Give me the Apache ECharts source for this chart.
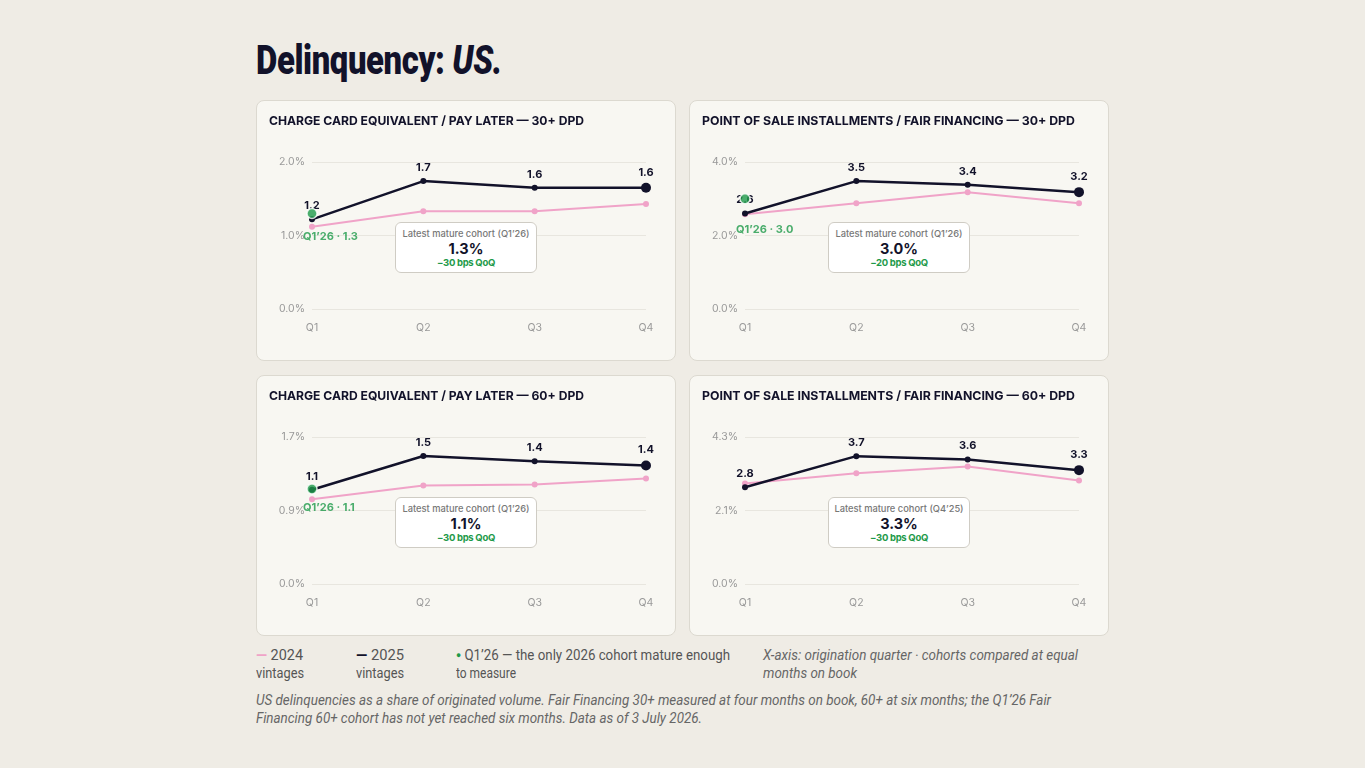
<!DOCTYPE html>
<html><head><meta charset="utf-8">
<script src="https://cdn.jsdelivr.net/npm/echarts@6/dist/echarts.min.js"></script>
<style>
html,body{margin:0;padding:0;background:#efece5;width:1365px;height:768px;overflow:hidden;font-family:Inter,"Noto Sans",sans-serif;}
.fit{position:absolute;white-space:nowrap;transform-origin:0 0;}
#title{left:256px;top:36px;font-family:Roboto,"Noto Sans",sans-serif;font-weight:900;font-size:41px;color:#12122a;letter-spacing:-0.5px;}
#title i{font-style:italic;}
.card{position:absolute;width:420px;height:261px;background:#f8f7f2;border:1px solid #dcd9d0;border-radius:8px;box-sizing:border-box;}
.card .ttl{left:12px;top:12px;font-weight:700;font-size:12.4px;color:#12122a;}
.card .ch{position:absolute;left:0;top:0;width:420px;height:261px;}
.callout{position:absolute;left:138px;top:121px;width:142px;height:51px;background:#fff;border:1px solid #cfccc4;border-radius:6px;box-sizing:border-box;text-align:center;}
.callout .a{font-size:9.3px;color:#777;margin-top:5px;font-weight:500;}
.callout .b{font-size:14.5px;font-weight:700;color:#12122a;margin-top:1px;line-height:17px;}
.callout .c{font-size:9.5px;font-weight:700;color:#1e9a4a;letter-spacing:-0.3px;margin-top:0px;}
.lg{font-family:Roboto,"Noto Sans",sans-serif;font-size:14px;color:#555;}
.it{font-style:italic;color:#666;}
</style></head>
<body>
<div id="title" class="fit" data-w="246">Delinquency: <i>US.</i></div>

<div class="card" style="left:256px;top:100px"><div class="ch" id="c0"></div><div class="ttl fit" data-w="315">CHARGE CARD EQUIVALENT / PAY LATER — 30+ DPD</div>
<div class="callout"><div class="a">Latest mature cohort (Q1’26)</div><div class="b">1.3%</div><div class="c">−30 bps QoQ</div></div></div>
<div class="card" style="left:689px;top:100px"><div class="ch" id="c1"></div><div class="ttl fit" data-w="373">POINT OF SALE INSTALLMENTS / FAIR FINANCING — 30+ DPD</div>
<div class="callout"><div class="a">Latest mature cohort (Q1’26)</div><div class="b">3.0%</div><div class="c">−20 bps QoQ</div></div></div>
<div class="card" style="left:256px;top:375px"><div class="ch" id="c2"></div><div class="ttl fit" data-w="315">CHARGE CARD EQUIVALENT / PAY LATER — 60+ DPD</div>
<div class="callout"><div class="a">Latest mature cohort (Q1’26)</div><div class="b">1.1%</div><div class="c">−30 bps QoQ</div></div></div>
<div class="card" style="left:689px;top:375px"><div class="ch" id="c3"></div><div class="ttl fit" data-w="373">POINT OF SALE INSTALLMENTS / FAIR FINANCING — 60+ DPD</div>
<div class="callout"><div class="a">Latest mature cohort (Q4’25)</div><div class="b">3.3%</div><div class="c">−30 bps QoQ</div></div></div>

<div class="fit lg" data-w="47" style="left:256px;top:647px"><span style="color:#f0a3c8;font-weight:700">—</span> 2024</div>
<div class="fit lg" data-w="48" style="left:256px;top:665px">vintages</div>
<div class="fit lg" data-w="48" style="left:356px;top:647px"><span style="color:#12122a;font-weight:700">—</span> 2025</div>
<div class="fit lg" data-w="48" style="left:356px;top:665px">vintages</div>
<div class="fit lg" data-w="274" style="left:456px;top:647px"><span style="color:#1e9a4a;font-size:9px;vertical-align:2px">●</span> Q1’26 — the only 2026 cohort mature enough</div>
<div class="fit lg" data-w="60" style="left:456px;top:665px">to measure</div>
<div class="fit lg it" data-w="315" style="left:763px;top:647px">X-axis: origination quarter · cohorts compared at equal</div>
<div class="fit lg it" data-w="94" style="left:763px;top:665px">months on book</div>
<div class="fit lg it" data-w="795" style="left:256px;top:692px">US delinquencies as a share of originated volume. Fair Financing 30+ measured at four months on book, 60+ at six months; the Q1’26 Fair</div>
<div class="fit lg it" data-w="446" style="left:256px;top:710px">Financing 60+ cohort has not yet reached six months. Data as of 3 July 2026.</div>

<script>
const quarters = ['Q1','Q2','Q3','Q4'];

const cc30_2024 = [1.12, 1.33, 1.33, 1.43];
const cc30_2025 = [1.22, 1.74, 1.65, 1.65];
const cc30_q126 = 1.3;

const pos30_2024 = [2.58, 2.88, 3.18, 2.88];
const pos30_2025 = [2.6, 3.48, 3.38, 3.18];
const pos30_q126 = 3.0;

const cc60_2024 = [0.98, 1.14, 1.15, 1.22];
const cc60_2025 = [1.09, 1.48, 1.42, 1.37];
const cc60_q126 = 1.1;

const pos60_2024 = [2.94, 3.24, 3.44, 3.03];
const pos60_2025 = [2.83, 3.74, 3.64, 3.33];
const pos60_q126 = null;

const axisMax = [2.0, 4.0, 1.7, 4.3];
const yTickLabels = [
  ['0.0%', '1.0%', '2.0%'],
  ['0.0%', '2.0%', '4.0%'],
  ['0.0%', '0.9%', '1.7%'],
  ['0.0%', '2.1%', '4.3%']
];

const DARK = '#12122a', PINK = '#f0a3c8', GREEN = '#1e9a4a';

// fit text lines to their measured reference widths
document.querySelectorAll('.fit').forEach(el => {
  const w = el.getBoundingClientRect().width;
  const target = +el.dataset.w;
  if (w > 0) el.style.transform = 'scaleX(' + (target / w) + ')';
});

const panels = [
  {id:'c0', a:cc30_2024, b:cc30_2025, g:cc30_q126, max:axisMax[0], ticks:yTickLabels[0], goff:[-9, 7]},
  {id:'c1', a:pos30_2024, b:pos30_2025, g:pos30_q126, max:axisMax[1], ticks:yTickLabels[1], goff:[-9, 15]},
  {id:'c2', a:cc60_2024, b:cc60_2025, g:cc60_q126, max:axisMax[2], ticks:yTickLabels[2], goff:[-9, 3]},
  {id:'c3', a:pos60_2024, b:pos60_2025, g:pos60_q126, max:axisMax[3], ticks:yTickLabels[3], goff:[-9, 10]},
];

panels.forEach(p => {
  const chart = echarts.init(document.getElementById(p.id), null, {renderer:'canvas'});
  const series = [
    {type:'line', data:p.a, symbol:'circle', symbolSize:6, showSymbol:true,
     lineStyle:{color:PINK, width:2}, itemStyle:{color:PINK}, z:2, silent:true},
    {type:'line', data:p.b, symbol:'circle',
     symbolSize:(v, prm) => prm.dataIndex === p.b.length - 1 ? 10 : 6,
     lineStyle:{color:DARK, width:2.5}, itemStyle:{color:DARK}, z:3, silent:true,
     label:{show:true, position:'top', distance:5, color:DARK, fontWeight:700, fontSize:11,
            fontFamily:'Inter', formatter:(prm) => prm.value.toFixed(1)}}
  ];
  if (p.g !== null) {
    series.push({type:'scatter', data:[[0, p.g]], symbolSize:10, z:5, silent:true,
      itemStyle:{color:GREEN, borderColor:'#ffffff', borderWidth:1.5},
      label:{show:true, position:'bottom', align:'left', offset:p.goff, color:GREEN,
             fontWeight:700, fontSize:11, fontFamily:'Inter',
             formatter:'Q1’26 · ' + p.g.toFixed(1)}});
  }
  chart.setOption({
    animation:false,
    grid:{left:55, right:31, top:61, bottom:53},
    xAxis:{type:'category', data:quarters, boundaryGap:false,
      axisLine:{show:false}, axisTick:{show:false},
      axisLabel:{color:'#999', fontSize:10.5, fontFamily:'Inter', margin:13}},
    yAxis:{type:'value', min:0, max:p.max, interval:p.max/2,
      axisLine:{show:false}, axisTick:{show:false},
      splitLine:{lineStyle:{color:'#e8e6df', width:1}},
      axisLabel:{color:'#999', fontSize:10.5, fontFamily:'Inter', margin:7,
        formatter:(v) => p.ticks[Math.round(v / (p.max / 2))]}},
    series
  });
});
</script>
</body></html>
